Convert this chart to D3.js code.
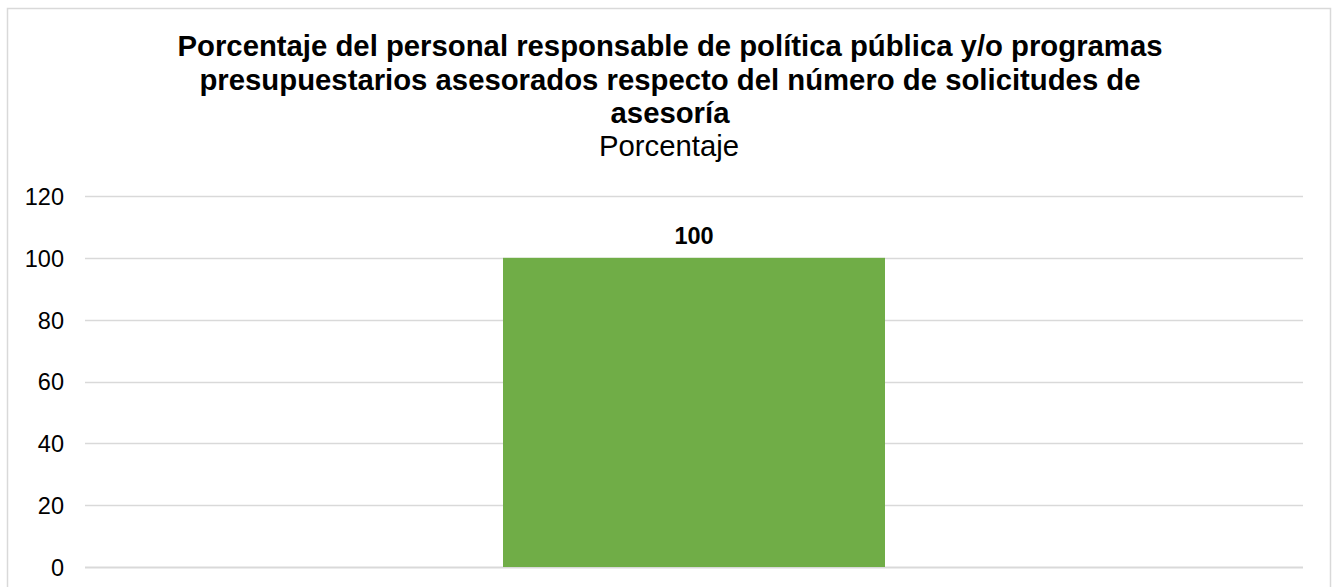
<!DOCTYPE html>
<html><head><meta charset="utf-8">
<script src="https://cdn.jsdelivr.net/npm/d3@7"></script>
<style>
html,body{margin:0;padding:0;background:#fff;}
svg{display:block;font-family:"Liberation Sans",Arial,sans-serif;}
</style></head>
<body>
<svg id="chart" width="1332" height="587"></svg>
<script>
const categories = ["2023"];
const values = [100];
const yTicks = [0, 20, 40, 60, 80, 100, 120];
const titleLines = [
  "Porcentaje del personal responsable de política pública y/o programas",
  "presupuestarios asesorados respecto del número de solicitudes de",
  "asesoría"
];
const subtitle = "Porcentaje";

(function () {
const svg = d3.select("#chart");
// outer border
svg.append("rect").attr("x", 7.5).attr("y", 8.5).attr("width", 1323).attr("height", 600)
  .attr("fill", "#fff").attr("stroke", "#d9d9d9").attr("stroke-width", 1.5);

const pLeft = 85, pRight = 1303, pTop = 196, pBottom = 567;
const x = d3.scaleBand().domain(categories).range([pLeft, pRight]).paddingInner(0.686).paddingOuter(0.343);
const y = d3.scaleLinear().domain([0, 120]).range([pBottom, pTop]);

// gridlines
svg.append("g").selectAll("line").data(yTicks).join("line")
  .attr("x1", pLeft).attr("x2", pRight)
  .attr("y1", d => Math.round(y(d)) + 0.5).attr("y2", d => Math.round(y(d)) + 0.5)
  .attr("stroke", "#d9d9d9").attr("stroke-width", d => d === 0 ? 1.8 : 1.3);

// y axis labels
const yAxis = d3.axisLeft(y).tickValues(yTicks).tickSize(0).tickPadding(0);
const ga = svg.append("g").attr("transform", `translate(${64},0)`).call(yAxis);
ga.select(".domain").remove();
ga.selectAll("text").attr("font-size", 23.5).attr("fill", "#000")
  .attr("font-family", "Liberation Sans, Arial, sans-serif").attr("dy", "0.36em");

// bars
const bw = 382;
svg.append("g").selectAll("rect").data(values).join("rect")
  .attr("x", (d, i) => x(categories[i]) + x.bandwidth() / 2 - bw / 2)
  .attr("width", bw)
  .attr("y", d => y(d))
  .attr("height", d => y(0) - y(d))
  .attr("fill", "#70ad47");

// data labels
svg.append("g").selectAll("text").data(values).join("text")
  .attr("x", (d, i) => x(categories[i]) + x.bandwidth() / 2)
  .attr("y", d => y(d) - 14)
  .attr("text-anchor", "middle").attr("font-weight", "bold").attr("font-size", 23.5)
  .attr("fill", "#000").text(d => d);

// title
const tBase = [56, 90, 123];
svg.append("g").selectAll("text").data(titleLines).join("text")
  .attr("x", 670).attr("y", (d, i) => tBase[i])
  .attr("text-anchor", "middle").attr("font-weight", "bold").attr("font-size", 29.3)
  .attr("fill", "#000").text(d => d);
svg.append("text").attr("x", 669).attr("y", 156).attr("text-anchor", "middle")
  .attr("font-size", 29.3).attr("fill", "#000").text(subtitle);
})();
</script>
</body></html>
